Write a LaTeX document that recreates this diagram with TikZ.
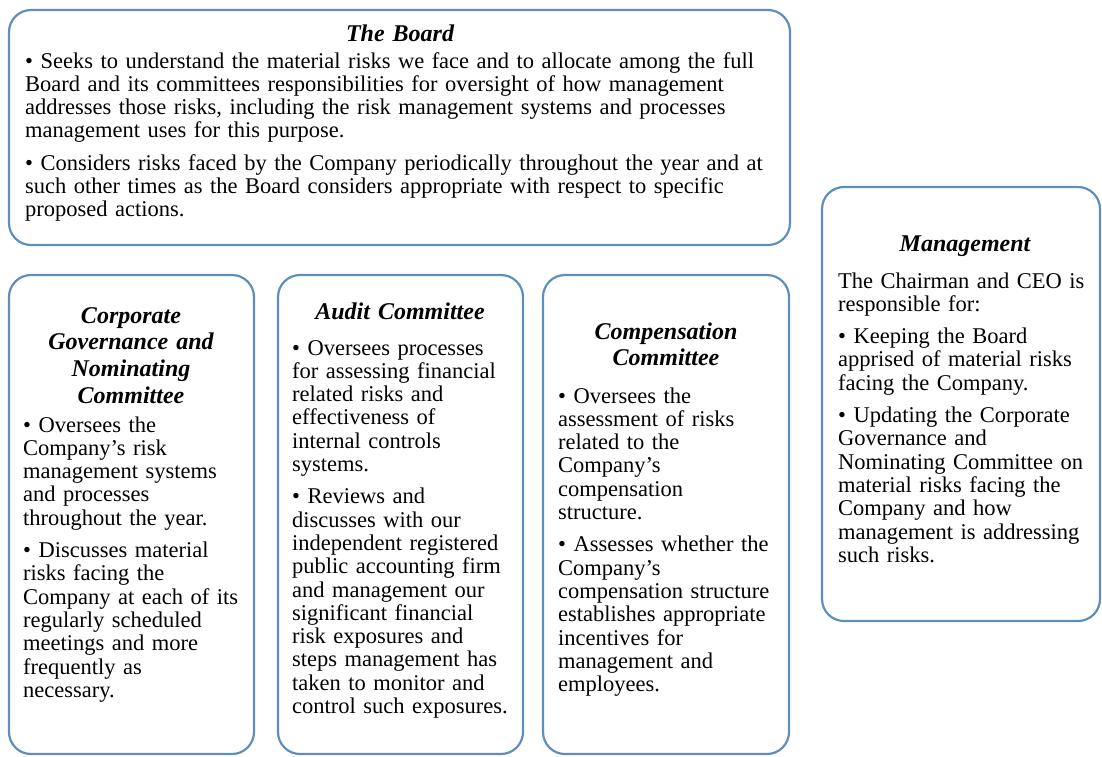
\documentclass[tikz,border=0pt]{standalone}
\usepackage{fontspec}
\setmainfont{Liberation Serif}
\definecolor{frameblue}{RGB}{94,142,190}
\tikzset{
  panel/.style={draw=frameblue, line width=2.2pt, rounded corners=22pt},
  heading/.style={anchor=base, align=center, inner sep=0pt, text width=250pt,
    font=\fontsize{24}{26.7}\selectfont\bfseries\itshape},
  body/.style={anchor=base west, align=left, inner sep=0pt, text width=300pt,
    font=\fontsize{22.5}{23.3}\selectfont},
}
\newcommand{\parskipline}{\\[9pt]}

\begin{document}
\begin{tikzpicture}[x=1pt,y=1pt,yscale=-1]
\useasboundingbox (0,0) rectangle (1102,756);

%Shape: Rounded Rect [board]
\draw [panel] (9,10) rectangle (790,245);
%Shape: Rounded Rect [governance]
\draw [panel] (9,275) rectangle (254,754);
%Shape: Rounded Rect [audit]
\draw [panel] (278,275) rectangle (523,754);
%Shape: Rounded Rect [compensation]
\draw [panel] (543,275) rectangle (789,754);
%Shape: Rounded Rect [management]
\draw [panel] (822,187) rectangle (1100,621);

% Text Node
\node [heading] (boardhead) at (400,41) {The Board};
\node [body, text width=780pt] (boardtext) at (25,68) {%
• Seeks to understand the material risks we face and to allocate among the full\\
Board and its committees responsibilities for oversight of how management\\
addresses those risks, including the risk management systems and processes\\
management uses for this purpose.\parskipline
• Considers risks faced by the Company periodically throughout the year and at\\
such other times as the Board considers appropriate with respect to specific\\
proposed actions.};

% Text Node
\node [heading] (govhead) at (131,323) {Corporate\\ Governance and\\ Nominating\\ Committee};
\node [body] (govtext) at (23,432) {%
• Oversees the\\
Company’s risk\\
management systems\\
and processes\\
throughout the year.\parskipline
• Discusses material\\
risks facing the\\
Company at each of its\\
regularly scheduled\\
meetings and more\\
frequently as\\
necessary.};

% Text Node
\node [heading] (audithead) at (400,319) {Audit Committee};
\node [body] (audittext) at (292,355) {%
• Oversees processes\\
for assessing financial\\
related risks and\\
effectiveness of\\
internal controls\\
systems.\parskipline
• Reviews and\\
discusses with our\\
independent registered\\
public accounting firm\\
and management our\\
significant financial\\
risk exposures and\\
steps management has\\
taken to monitor and\\
control such exposures.};

% Text Node
\node [heading] (comphead) at (666,339) {Compensation\\ Committee};
\node [body] (comptext) at (558,403) {%
• Oversees the\\
assessment of risks\\
related to the\\
Company’s\\
compensation\\
structure.\parskipline
• Assesses whether the\\
Company’s\\
compensation structure\\
establishes appropriate\\
incentives for\\
management and\\
employees.};

% Text Node
\node [heading] (mgmthead) at (965,251) {Management};
\node [body] (mgmttext) at (838,288) {%
The Chairman and CEO is\\
responsible for:\parskipline
• Keeping the Board\\
apprised of material risks\\
facing the Company.\parskipline
• Updating the Corporate\\
Governance and\\
Nominating Committee on\\
material risks facing the\\
Company and how\\
management is addressing\\
such risks.};

\end{tikzpicture}
\end{document}
